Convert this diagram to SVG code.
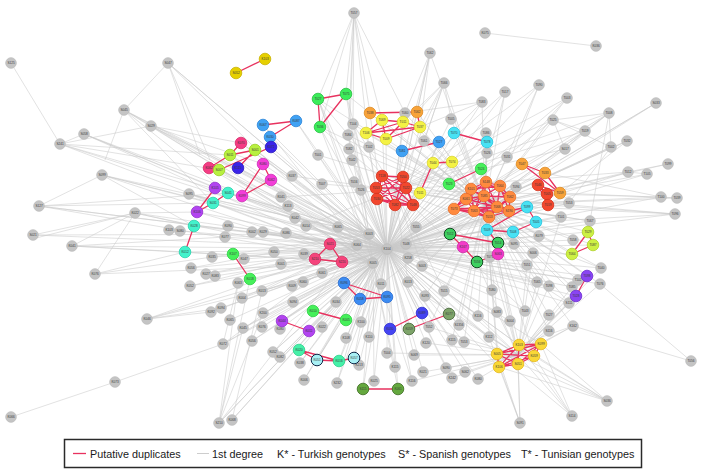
<svg xmlns="http://www.w3.org/2000/svg" width="703" height="472" viewBox="0 0 703 472">
<style>
.e{stroke:#c9c9c9;stroke-width:.55;fill:none}
.d{stroke:#e8325f;stroke-width:1.3;fill:none;stroke-linecap:round}
.n circle{stroke-width:.8}
.n text{font-family:"Liberation Sans",Arial,sans-serif;font-size:3.1px;fill:#3a3a3a;text-anchor:middle;dominant-baseline:central}
.g circle{fill:#c4c4c4;stroke:#bcbcbc}
.y1 circle{fill:#e6d000;stroke:#c9b200}
.gr circle{fill:#3cec5a;stroke:#24c040}
.or circle{fill:#f7a33a;stroke:#e08a20}
.ye circle{fill:#f4f244;stroke:#dcd52c}
.cy circle{fill:#48e2f4;stroke:#22c4e0}
.bl circle{fill:#40a2f4;stroke:#2a84d8}
.in circle{fill:#3a24e8;stroke:#2a18c0}
.hp circle{fill:#f43c84;stroke:#d82a68}
.li circle{fill:#b8f040;stroke:#98d020}
.mg circle{fill:#f23ed8;stroke:#d02ab8}
.pu circle{fill:#b244f0;stroke:#9430d0}
.aq circle{fill:#44f2cc;stroke:#24d4ac}
.gn circle{fill:#46f05a;stroke:#2ad040}
.rd circle{fill:#f2472e;stroke:#d4321c}
.o2 circle{fill:#ff8a3e;stroke:#e8702a}
.pk circle{fill:#f5447c;stroke:#d82e62}
.b2 circle{fill:#3c8cf2;stroke:#2468d0}
.dg circle{fill:#3ed060;stroke:#124a22;stroke-width:1}
.m2 circle{fill:#f23cc8;stroke:#d02aa8}
.l2 circle{fill:#cdf044;stroke:#b0d22a}
.vi circle{fill:#8a44f2;stroke:#6a2ad0}
.ag circle{fill:#46f0a8;stroke:#28d08a}
.lc circle{fill:#a8f0f4;stroke:#102a4a;stroke-width:1}
.b3 circle{fill:#4444f2;stroke:#2a2ad0}
.ol circle{fill:#7ea46a;stroke:#3e6030}
.d2 circle{fill:#64a83e;stroke:#3a6a1e}
.go circle{fill:#f9d836;stroke:#e4b81a}
.lg{font-family:"Liberation Sans",Arial,sans-serif;font-size:10.8px;fill:#1a1a1a}
</style>
<rect width="703" height="472" fill="#fff"/>
<g id="connectors">
<path class="e" d="M387 249L124 110M387 249L151 126M387 249L84 134M387 249L60 144M387 249L168 63M387 249L102 175M387 249L39 206M387 249L189 194M387 249L135 213M387 249L33 235M387 249L72 246M387 249L180 231M387 249L228 226M387 249L225 237M387 249L212 257M387 249L191 268M387 249L206 274M387 249L215 276M387 249L190 286M387 249L221 308M387 249L211 312M387 249L147 319M387 249L230 320M387 249L223 344M387 249L292 176M387 249L322 184M387 249L281 197M387 249L288 206M387 249L295 218M387 249L306 226M387 249L338 227M387 249L354 182M387 249L361 190M387 249L352 160M387 249L252 232M387 249L263 232M387 249L286 233M387 249L274 252M387 249L304 254M387 249L281 264M387 249L322 273M387 249L292 286M387 249L303 282M387 249L381 284M387 249L408 282M387 249L444 291M387 249L425 296M387 249L293 302M387 249L336 302M387 249L262 291M387 249L238 283M387 249L244 259M387 249L242 298M387 249L263 313M387 249L243 328M387 249L262 327M387 249L252 341M387 249L280 329M387 249L322 327M387 249L361 322M387 249L346 338M387 249L369 337M387 249L273 352M387 249L280 357M387 249L300 363M387 249L359 365M387 249L304 380M387 249L337 383M387 249L429 327M387 249L426 343M387 249L387 353M387 249L414 355M387 249L395 367M387 249L423 372M387 249L412 381M387 249L374 381M387 249L219 423M387 249L232 420M387 249L489 337M387 249L497 312M387 249L510 321M387 249L478 316M387 249L478 379M387 249L446 368M387 249L465 372M387 249L452 378M387 249L464 342M387 249L452 340M387 249L459 325M387 249L318 155M387 249L349 149M387 249L369 147M387 249L348 135M387 249L353 124M387 249L424 141M387 249L451 119M387 249L405 113M387 249L507 157M387 249L487 153M387 249L486 133M387 249L482 102M387 249L505 92M387 249L539 85M387 249L553 120M387 249L565 149M387 249L516 187M387 249L569 203M387 249L561 217M387 249L590 221M387 249L539 236M387 249L573 240M387 249L514 244M387 249L533 253M387 249L490 257M387 249L527 265M387 249L537 282M387 249L549 286M387 249L492 290M387 249L525 311M387 249L572 287M387 249L578 280M387 249L569 303M387 249L600 284M387 249L601 268M387 249L628 172M387 249L647 174M387 249L661 197M387 249L675 214M387 249L609 113M387 249L585 131M387 249L611 147M387 249L627 141M387 249L567 98M387 249L444 83M387 249L430 53"/>
<path class="e" d="M387 249L318 99M387 249L346 94M387 249L320 127M387 249L370 113M387 249L417 112M387 249L382 120M387 249L403 122M387 249L420 127M387 249L366 133M387 249L386 139M387 249L433 163M387 249L452 162M387 249L420 193M387 249L454 133M387 249L487 142M387 249L527 207M387 249L536 222M387 249L487 230M387 249L513 232M387 249L439 142M387 249L402 151M387 249L263 125M387 249L296 121M387 249L270 137M387 249L271 147M387 249L238 168M387 249L241 143M387 249L209 168M387 249L230 155M387 249L255 150M387 249L219 170M387 249L263 164M387 249L271 180M387 249L242 196M387 249L215 188M387 249L197 212M387 249L228 193M387 249L213 203M387 249L194 226M387 249L185 252M387 249L449 184M387 249L481 169M387 249L233 254M387 249L250 279M387 249L313 311M387 249L346 320M387 249L382 176M387 249L403 177M387 249L376 188M387 249L406 188M387 249L377 199M387 249L395 205M387 249L413 205M387 249L538 185M387 249L547 194M387 249L548 205M387 249L486 182M387 249L500 186M387 249L471 189M387 249L484 196M387 249L510 197M387 249L466 199M387 249L454 209M387 249L474 211M387 249L497 207M387 249L509 211M387 249L489 217M387 249L522 164M387 249L545 173M387 249L560 193M387 249L330 244M387 249L315 259M387 249L342 262M387 249L344 283M387 249L360 299M387 249L387 297M387 249L450 234M387 249L498 243M387 249L477 262M387 249L463 247M387 249L498 254M387 249L588 232M387 249L593 245M387 249L572 254M387 249L587 276M387 249L576 296M387 249L282 321M387 249L309 331M387 249L299 350M387 249L339 361M387 249L317 360M387 249L354 358M387 249L390 329M387 249L422 313M387 249L409 329M387 249L449 314M387 249L363 389M387 249L398 389M387 249L519 345M387 249L541 344M387 249L497 354M387 249L534 356M387 249L518 364M387 249L499 367"/>
<path class="e" d="M373 263L124 110M373 263L151 126M373 263L84 134M373 263L168 63M373 263L102 175M373 263L39 206M373 263L135 213M373 263L72 246M373 263L95 274M373 263L147 319M373 263L223 344M373 263L219 423M373 263L232 420M373 263L263 313M373 263L243 328M373 263L252 341M373 263L273 352M373 263L280 357M373 263L304 380M373 263L337 383M373 263L363 389M373 263L398 389M373 263L374 381M373 263L412 381M373 263L395 367M373 263L300 363M373 263L317 360M373 263L339 361M373 263L354 358M373 263L282 321M373 263L309 331M373 263L318 99M373 263L320 127M373 263L348 135M373 263L353 124M373 263L263 125M373 263L209 168M373 263L197 212M373 263L185 252M373 263L60 144M373 263L189 194M373 263L230 155M373 263L219 170"/>
<path class="e" d="M369 234L124 110M369 234L151 126M369 234L60 144M369 234L168 63M369 234L102 175M369 234L33 235M369 234L189 194M369 234L212 257M369 234L191 268M369 234L296 121M369 234L318 99M369 234L346 94M369 234L228 193M369 234L241 143M369 234L255 150M357 245L124 110M357 245L84 134M357 245L39 206M357 245L147 319M357 245L223 344M357 245L219 423M357 245L190 286M357 245L206 274M357 245L262 291M357 245L242 298"/>
<path class="e" d="M485 205L430 53M485 205L444 83M485 205L482 102M485 205L505 92M485 205L539 85M485 205L567 98M485 205L656 103M485 205L553 120M485 205L609 113M485 205L585 131M485 205L611 147M485 205L627 141M485 205L565 149M485 205L486 133M485 205L487 153M485 205L507 157M485 205L628 172M485 205L647 174M485 205L668 164M485 205L661 197M485 205L677 198M485 205L675 214M485 205L569 203M485 205L561 217M485 205L590 221M485 205L573 240M485 205L601 268M485 205L600 284M485 205L578 280M485 205L572 287M485 205L569 303M485 205L537 282M485 205L549 286M485 205L527 265M485 205L525 311M485 205L497 312M485 205L492 290M485 205L533 253M485 205L514 244M485 205L539 236M485 205L588 232M485 205L593 245M485 205L572 254M485 205L587 276M485 205L576 296M485 205L451 119M485 205L424 141M485 205L405 113M485 205L420 127M485 205L403 122M485 205L382 120M485 205L366 133M485 205L386 139M485 205L346 94M485 205L318 99M485 205L320 127M485 205L370 113M485 205L417 112M485 205L402 151M485 205L439 142M485 205L454 133M485 205L487 142M485 205L433 163M485 205L452 162M485 205L420 193M485 205L408 258M485 205L422 266M485 205L444 291M485 205L425 296M485 205L408 282M485 205L381 284M485 205L429 327M485 205L459 325M485 205L464 342M485 205L452 340M485 205L478 316M485 205L510 321M485 205L549 315M485 205L549 331M485 205L573 326M485 205L489 337M485 205L519 345M485 205L497 354M485 205L499 367M485 205L534 356M485 205L353 124M485 205L348 135M485 205L349 149M485 205L318 155"/>
<path class="e" d="M395 190L430 53M395 190L444 83M395 190L482 102M395 190L505 92M395 190L539 85M395 190L567 98M395 190L553 120M395 190L609 113M395 190L585 131M395 190L565 149M395 190L628 172M395 190L661 197M395 190L675 214M395 190L561 217M395 190L590 221M395 190L601 268M395 190L569 303M395 190L525 311M395 190L422 266M395 190L444 291M395 190L408 282M395 190L292 176M395 190L281 197M395 190L322 184M395 190L306 226M395 190L318 99M395 190L320 127M395 190L353 124"/>
<path class="e" d="M518 355L607 401M518 355L572 416M518 355L520 423M518 355L573 326M518 355L549 331M518 355L549 315M518 355L478 379M518 355L489 337M518 355L446 368M518 355L465 372M518 355L452 378M518 355L464 342M518 355L510 321M518 355L497 312M518 355L478 316M518 355L429 327M518 355L426 343M518 355L414 355M518 355L423 372M518 355L412 381M518 355L387 353M518 355L408 282M518 355L425 296M518 355L444 291M518 355L498 254M518 355L477 262M518 355L490 257M518 355L527 265M518 355L537 282M518 355L549 286M518 355L572 287M518 355L569 303M518 355L576 296M518 355L600 284M518 355L587 276M518 355L601 268M518 355L561 217M518 355L533 253M607 401L541 344M607 401L519 345M607 401L497 354M607 401L499 367M607 401L534 356M572 416L541 344M572 416L519 345M572 416L497 354M572 416L534 356M520 423L497 354M520 423L518 364M520 423L499 367M520 423L489 337M573 326L541 344M573 326L519 345M573 326L691 361"/>
<path class="e" d="M354 13L318 99M354 13L346 94M354 13L320 127M354 13L353 124M354 13L348 135M354 13L370 113M354 13L405 113M354 13L382 120M354 13L349 149M354 13L369 147M430 53L417 112M430 53L420 127M430 53L405 113M444 83L420 127M444 83L451 119M444 83L424 141M444 83L403 122M444 83L417 112M11 63L60 144M168 63L124 110M168 63L200 155M168 63L210 160M60 144L151 126M60 144L84 134M60 144L230 155M60 144L219 170M84 134L215 188M124 110L105 160M124 110L228 193M124 110L213 203M151 126L241 143M151 126L263 164M102 175L39 206M102 175L213 203M102 175L194 226M39 206L228 193M39 206L213 203M135 213L33 235M135 213L36 238M135 213L72 246M135 213L95 274M135 213L197 212M135 213L194 226M72 246L225 237M72 246L185 252M95 274L185 252M95 274L212 257M147 319L221 308M147 319L211 312M223 344L115 382M115 382L11 417M223 344L238 283M219 423L238 283M219 423L250 279M219 423L243 328M219 423L263 313M232 420L262 291M485 33L596 46M668 164L628 172M647 174L628 172M677 198L661 197M661 197L545 173M677 198L560 193M675 214L548 205M675 214L536 222M656 103L560 160M656 103L545 173M539 85L510 160M505 92L490 150M567 98L520 150M609 113L553 120M609 113L585 131M609 113L565 149M609 113L611 147M609 113L590 221M553 120L611 147M553 120L585 131M553 120L565 149M585 131L565 149M482 102L405 113M482 102L420 127M627 141L560 193M611 147L569 203M691 361L600 284"/>
</g>
<g id="duplicates">
<path class="d" d="M236 73L265 59M318 99L346 94M318 99L320 127M346 94L320 127M370 113L417 112M382 120L403 122M382 120L366 133M366 133L403 122M366 133L386 139M366 133L420 127M386 139L420 127M403 122L420 127M386 139L403 122M417 112L420 127M382 120L386 139M402 151L439 142M454 133L487 142M263 125L296 121M296 121L270 137M241 143L230 155M230 155L255 150M209 168L230 155M209 168L219 170M219 170L271 147M255 150L238 168M263 164L271 180M271 180L242 196M263 164L242 196M215 188L197 212M228 193L213 203M213 203L197 212M194 226L185 252M433 163L452 162M433 163L420 193M449 184L481 169M233 254L250 279"/>
<path class="d" d="M382 176L403 177M382 176L376 188M382 176L406 188M382 176L377 199M382 176L395 205M382 176L413 205M403 177L376 188M403 177L406 188M403 177L377 199M403 177L395 205M403 177L413 205M376 188L406 188M376 188L377 199M376 188L395 205M376 188L413 205M406 188L377 199M406 188L395 205M406 188L413 205M377 199L395 205M377 199L413 205M395 205L413 205"/>
<path class="d" d="M486 182L500 186M486 182L471 189M486 182L484 196M486 182L510 197M486 182L466 199M486 182L497 207M486 182L474 211M500 186L484 196M500 186L510 197M500 186L497 207M500 186L509 211M500 186L471 189M471 189L484 196M471 189L466 199M471 189L454 209M471 189L474 211M471 189L497 207M484 196L510 197M484 196L466 199M484 196L454 209M484 196L474 211M484 196L497 207M484 196L509 211M484 196L489 217M510 197L497 207M510 197L509 211M510 197L489 217M466 199L454 209M466 199L474 211M466 199L489 217M454 209L474 211M454 209L489 217M474 211L497 207M474 211L489 217M474 211L509 211M497 207L509 211M497 207L489 217M509 211L489 217M466 199L497 207M454 209L497 207"/>
<path class="d" d="M522 164L545 173M522 164L560 193M545 173L560 193M538 185L547 194M547 194L548 205M538 185L548 205M538 185L560 193M527 207L536 222M527 207L487 230M487 230L513 232M513 232L536 222M527 207L509 211M487 230L498 243M450 234L463 247M463 247L477 262M498 243L498 254M498 254L477 262M450 234L498 243M588 232L593 245M588 232L572 254M593 245L572 254M587 276L576 296M330 244L315 259M315 259L342 262M330 244L342 262M344 283L360 299M360 299L387 297M344 283L387 297M282 321L309 331M313 311L346 320M299 350L339 361M317 360L339 361M339 361L354 358M299 350L317 360M390 329L422 313M409 329L449 314M363 389L398 389"/>
<path class="d" d="M519 345L541 344M519 345L497 354M519 345L534 356M519 345L518 364M519 345L499 367M541 344L497 354M541 344L534 356M541 344L518 364M541 344L499 367M497 354L534 356M497 354L518 364M497 354L499 367M534 356L518 364M534 356L499 367M518 364L499 367"/>
</g>
<g id="S125" class="n g"><circle cx="11" cy="63" r="5.3"/><text x="11" y="63">S125</text></g>
<g id="S047" class="n g"><circle cx="168" cy="63" r="5.3"/><text x="168" y="63">S047</text></g>
<g id="S045" class="n g"><circle cx="124" cy="110" r="5.3"/><text x="124" y="110">S045</text></g>
<g id="S029" class="n g"><circle cx="151" cy="126" r="5.3"/><text x="151" y="126">S029</text></g>
<g id="S058" class="n g"><circle cx="84" cy="134" r="5.3"/><text x="84" y="134">S058</text></g>
<g id="S241" class="n g"><circle cx="60" cy="144" r="5.3"/><text x="60" y="144">S241</text></g>
<g id="T057" class="n g"><circle cx="354" cy="13" r="5.3"/><text x="354" y="13">T057</text></g>
<g id="T062g" class="n g"><circle cx="430" cy="53" r="5.3"/><text x="430" y="53">T062</text></g>
<g id="T066" class="n g"><circle cx="444" cy="83" r="5.3"/><text x="444" y="83">T066</text></g>
<g id="K075" class="n g"><circle cx="485" cy="33" r="5.3"/><text x="485" y="33">K075</text></g>
<g id="K036" class="n g"><circle cx="596" cy="46" r="5.3"/><text x="596" y="46">K036</text></g>
<g id="T090" class="n g"><circle cx="539" cy="85" r="5.3"/><text x="539" y="85">T090</text></g>
<g id="T017" class="n g"><circle cx="505" cy="92" r="5.3"/><text x="505" y="92">T017</text></g>
<g id="T083" class="n g"><circle cx="482" cy="102" r="5.3"/><text x="482" y="102">T083</text></g>
<g id="T003" class="n g"><circle cx="567" cy="98" r="5.3"/><text x="567" y="98">T003</text></g>
<g id="S033" class="n g"><circle cx="656" cy="103" r="5.3"/><text x="656" y="103">S033</text></g>
<g id="T025" class="n g"><circle cx="553" cy="120" r="5.3"/><text x="553" y="120">T025</text></g>
<g id="T008" class="n g"><circle cx="609" cy="113" r="5.3"/><text x="609" y="113">T008</text></g>
<g id="T019" class="n g"><circle cx="585" cy="131" r="5.3"/><text x="585" y="131">T019</text></g>
<g id="T086" class="n g"><circle cx="486" cy="133" r="5.3"/><text x="486" y="133">T086</text></g>
<g id="T026" class="n g"><circle cx="487" cy="153" r="5.3"/><text x="487" y="153">T026</text></g>
<g id="S017" class="n g"><circle cx="565" cy="149" r="5.3"/><text x="565" y="149">S017</text></g>
<g id="T002" class="n g"><circle cx="611" cy="147" r="5.3"/><text x="611" y="147">T002</text></g>
<g id="T032" class="n g"><circle cx="627" cy="141" r="5.3"/><text x="627" y="141">T032</text></g>
<g id="T031" class="n g"><circle cx="507" cy="157" r="5.3"/><text x="507" y="157">T031</text></g>
<g id="T060" class="n g"><circle cx="405" cy="113" r="5.3"/><text x="405" y="113">T060</text></g>
<g id="T104" class="n g"><circle cx="353" cy="124" r="5.3"/><text x="353" y="124">T104</text></g>
<g id="T005g" class="n g"><circle cx="451" cy="119" r="5.3"/><text x="451" y="119">T005</text></g>
<g id="T084" class="n g"><circle cx="348" cy="135" r="5.3"/><text x="348" y="135">T084</text></g>
<g id="T061" class="n g"><circle cx="424" cy="141" r="5.3"/><text x="424" y="141">T061</text></g>
<g id="T102" class="n g"><circle cx="369" cy="147" r="5.3"/><text x="369" y="147">T102</text></g>
<g id="T082g" class="n g"><circle cx="349" cy="149" r="5.3"/><text x="349" y="149">T082</text></g>
<g id="T001" class="n g"><circle cx="318" cy="155" r="5.3"/><text x="318" y="155">T001</text></g>
<g id="S099" class="n g"><circle cx="102" cy="175" r="5.3"/><text x="102" y="175">S099</text></g>
<g id="S127" class="n g"><circle cx="39" cy="206" r="5.3"/><text x="39" y="206">S127</text></g>
<g id="S095" class="n g"><circle cx="189" cy="194" r="5.3"/><text x="189" y="194">S095</text></g>
<g id="K022" class="n g"><circle cx="135" cy="213" r="5.3"/><text x="135" y="213">K022</text></g>
<g id="S021" class="n g"><circle cx="33" cy="235" r="5.3"/><text x="33" y="235">S021</text></g>
<g id="K041" class="n g"><circle cx="72" cy="246" r="5.3"/><text x="72" y="246">K041</text></g>
<g id="K103" class="n g"><circle cx="169" cy="230" r="5.3"/><text x="169" y="230">K103</text></g>
<g id="S080" class="n g"><circle cx="180" cy="231" r="5.3"/><text x="180" y="231">S080</text></g>
<g id="K090" class="n g"><circle cx="228" cy="226" r="5.3"/><text x="228" y="226">K090</text></g>
<g id="K077" class="n g"><circle cx="225" cy="237" r="5.3"/><text x="225" y="237">K077</text></g>
<g id="K035" class="n g"><circle cx="212" cy="257" r="5.3"/><text x="212" y="257">K035</text></g>
<g id="K076" class="n g"><circle cx="95" cy="274" r="5.3"/><text x="95" y="274">K076</text></g>
<g id="K056" class="n g"><circle cx="191" cy="268" r="5.3"/><text x="191" y="268">K056</text></g>
<g id="K027" class="n g"><circle cx="206" cy="274" r="5.3"/><text x="206" y="274">K027</text></g>
<g id="K083" class="n g"><circle cx="215" cy="276" r="5.3"/><text x="215" y="276">K083</text></g>
<g id="K052" class="n g"><circle cx="190" cy="286" r="5.3"/><text x="190" y="286">K052</text></g>
<g id="K094" class="n g"><circle cx="221" cy="308" r="5.3"/><text x="221" y="308">K094</text></g>
<g id="K092" class="n g"><circle cx="211" cy="312" r="5.3"/><text x="211" y="312">K092</text></g>
<g id="K046" class="n g"><circle cx="147" cy="319" r="5.3"/><text x="147" y="319">K046</text></g>
<g id="K065" class="n g"><circle cx="230" cy="320" r="5.3"/><text x="230" y="320">K065</text></g>
<g id="K072" class="n g"><circle cx="223" cy="344" r="5.3"/><text x="223" y="344">K072</text></g>
<g id="K073" class="n g"><circle cx="115" cy="382" r="5.3"/><text x="115" y="382">K073</text></g>
<g id="K066" class="n g"><circle cx="11" cy="417" r="5.3"/><text x="11" y="417">K066</text></g>
<g id="S210" class="n g"><circle cx="219" cy="423" r="5.3"/><text x="219" y="423">S210</text></g>
<g id="K068" class="n g"><circle cx="232" cy="420" r="5.3"/><text x="232" y="420">K068</text></g>
<g id="K037" class="n g"><circle cx="292" cy="176" r="5.3"/><text x="292" y="176">K037</text></g>
<g id="T007" class="n g"><circle cx="322" cy="184" r="5.3"/><text x="322" y="184">T007</text></g>
<g id="K041b" class="n g"><circle cx="281" cy="197" r="5.3"/><text x="281" y="197">K041</text></g>
<g id="K113" class="n g"><circle cx="288" cy="206" r="5.3"/><text x="288" y="206">K113</text></g>
<g id="K042" class="n g"><circle cx="295" cy="218" r="5.3"/><text x="295" y="218">K042</text></g>
<g id="K014" class="n g"><circle cx="306" cy="226" r="5.3"/><text x="306" y="226">K014</text></g>
<g id="K065b" class="n g"><circle cx="338" cy="227" r="5.3"/><text x="338" y="227">K065</text></g>
<g id="T016" class="n g"><circle cx="354" cy="182" r="5.3"/><text x="354" y="182">T016</text></g>
<g id="T026b" class="n g"><circle cx="361" cy="190" r="5.3"/><text x="361" y="190">T026</text></g>
<g id="T042" class="n g"><circle cx="352" cy="160" r="5.3"/><text x="352" y="160">T042</text></g>
<g id="K002" class="n g"><circle cx="252" cy="232" r="5.3"/><text x="252" y="232">K002</text></g>
<g id="K029" class="n g"><circle cx="263" cy="232" r="5.3"/><text x="263" y="232">K029</text></g>
<g id="K086" class="n g"><circle cx="286" cy="233" r="5.3"/><text x="286" y="233">K086</text></g>
<g id="K003" class="n g"><circle cx="369" cy="234" r="5.3"/><text x="369" y="234">K003</text></g>
<g id="T055" class="n g"><circle cx="416" cy="227" r="5.3"/><text x="416" y="227">T055</text></g>
<g id="K064" class="n g"><circle cx="357" cy="245" r="5.3"/><text x="357" y="245">K064</text></g>
<g id="K104" class="n g"><circle cx="387" cy="249" r="5.3"/><text x="387" y="249">K104</text></g>
<g id="T048" class="n g"><circle cx="406" cy="244" r="5.3"/><text x="406" y="244">T048</text></g>
<g id="K005" class="n g"><circle cx="373" cy="263" r="5.3"/><text x="373" y="263">K005</text></g>
<g id="K258" class="n g"><circle cx="408" cy="258" r="5.3"/><text x="408" y="258">K258</text></g>
<g id="S003" class="n g"><circle cx="422" cy="266" r="5.3"/><text x="422" y="266">S003</text></g>
<g id="K050" class="n g"><circle cx="274" cy="252" r="5.3"/><text x="274" y="252">K050</text></g>
<g id="K039" class="n g"><circle cx="304" cy="254" r="5.3"/><text x="304" y="254">K039</text></g>
<g id="K001" class="n g"><circle cx="281" cy="264" r="5.3"/><text x="281" y="264">K001</text></g>
<g id="K061" class="n g"><circle cx="322" cy="273" r="5.3"/><text x="322" y="273">K061</text></g>
<g id="K009" class="n g"><circle cx="292" cy="286" r="5.3"/><text x="292" y="286">K009</text></g>
<g id="K060" class="n g"><circle cx="303" cy="282" r="5.3"/><text x="303" y="282">K060</text></g>
<g id="K011" class="n g"><circle cx="381" cy="284" r="5.3"/><text x="381" y="284">K011</text></g>
<g id="K013" class="n g"><circle cx="408" cy="282" r="5.3"/><text x="408" y="282">K013</text></g>
<g id="T015" class="n g"><circle cx="444" cy="291" r="5.3"/><text x="444" y="291">T015</text></g>
<g id="K093" class="n g"><circle cx="425" cy="296" r="5.3"/><text x="425" y="296">K093</text></g>
<g id="S094" class="n g"><circle cx="293" cy="302" r="5.3"/><text x="293" y="302">S094</text></g>
<g id="K034" class="n g"><circle cx="336" cy="302" r="5.3"/><text x="336" y="302">K034</text></g>
<g id="K013b" class="n g"><circle cx="262" cy="291" r="5.3"/><text x="262" y="291">K013</text></g>
<g id="K063" class="n g"><circle cx="238" cy="283" r="5.3"/><text x="238" y="283">K063</text></g>
<g id="K047" class="n g"><circle cx="244" cy="259" r="5.3"/><text x="244" y="259">K047</text></g>
<g id="K004" class="n g"><circle cx="242" cy="298" r="5.3"/><text x="242" y="298">K004</text></g>
<g id="K200" class="n g"><circle cx="263" cy="313" r="5.3"/><text x="263" y="313">K200</text></g>
<g id="T094" class="n g"><circle cx="516" cy="187" r="5.3"/><text x="516" y="187">T094</text></g>
<g id="T012" class="n g"><circle cx="628" cy="172" r="5.3"/><text x="628" y="172">T012</text></g>
<g id="T105" class="n g"><circle cx="647" cy="174" r="5.3"/><text x="647" y="174">T105</text></g>
<g id="T099g" class="n g"><circle cx="668" cy="164" r="5.3"/><text x="668" y="164">T099</text></g>
<g id="T100" class="n g"><circle cx="661" cy="197" r="5.3"/><text x="661" y="197">T100</text></g>
<g id="T039" class="n g"><circle cx="677" cy="198" r="5.3"/><text x="677" y="198">T039</text></g>
<g id="T096" class="n g"><circle cx="675" cy="214" r="5.3"/><text x="675" y="214">T096</text></g>
<g id="T053g" class="n g"><circle cx="569" cy="203" r="5.3"/><text x="569" y="203">T053</text></g>
<g id="T101" class="n g"><circle cx="561" cy="217" r="5.3"/><text x="561" y="217">T101</text></g>
<g id="T067" class="n g"><circle cx="590" cy="221" r="5.3"/><text x="590" y="221">T067</text></g>
<g id="K079" class="n g"><circle cx="539" cy="236" r="5.3"/><text x="539" y="236">K079</text></g>
<g id="T058" class="n g"><circle cx="573" cy="240" r="5.3"/><text x="573" y="240">T058</text></g>
<g id="S095b" class="n g"><circle cx="514" cy="244" r="5.3"/><text x="514" y="244">S095</text></g>
<g id="S006" class="n g"><circle cx="533" cy="253" r="5.3"/><text x="533" y="253">S006</text></g>
<g id="T071" class="n g"><circle cx="490" cy="257" r="5.3"/><text x="490" y="257">T071</text></g>
<g id="T051" class="n g"><circle cx="527" cy="265" r="5.3"/><text x="527" y="265">T051</text></g>
<g id="T040" class="n g"><circle cx="601" cy="268" r="5.3"/><text x="601" y="268">T040</text></g>
<g id="T076" class="n g"><circle cx="600" cy="284" r="5.3"/><text x="600" y="284">T076</text></g>
<g id="T102b" class="n g"><circle cx="578" cy="280" r="5.3"/><text x="578" y="280">T102</text></g>
<g id="T085" class="n g"><circle cx="572" cy="287" r="5.3"/><text x="572" y="287">T085</text></g>
<g id="S111" class="n g"><circle cx="569" cy="303" r="5.3"/><text x="569" y="303">S111</text></g>
<g id="T065" class="n g"><circle cx="537" cy="282" r="5.3"/><text x="537" y="282">T065</text></g>
<g id="T098g" class="n g"><circle cx="549" cy="286" r="5.3"/><text x="549" y="286">T098</text></g>
<g id="T080" class="n g"><circle cx="492" cy="290" r="5.3"/><text x="492" y="290">T080</text></g>
<g id="T043" class="n g"><circle cx="525" cy="311" r="5.3"/><text x="525" y="311">T043</text></g>
<g id="S083" class="n g"><circle cx="497" cy="312" r="5.3"/><text x="497" y="312">S083</text></g>
<g id="K045" class="n g"><circle cx="243" cy="328" r="5.3"/><text x="243" y="328">K045</text></g>
<g id="K076c" class="n g"><circle cx="262" cy="327" r="5.3"/><text x="262" y="327">K076</text></g>
<g id="K056b" class="n g"><circle cx="252" cy="341" r="5.3"/><text x="252" y="341">K056</text></g>
<g id="K080b" class="n g"><circle cx="280" cy="329" r="5.3"/><text x="280" y="329">K080</text></g>
<g id="K022b" class="n g"><circle cx="322" cy="327" r="5.3"/><text x="322" y="327">K022</text></g>
<g id="K100" class="n g"><circle cx="361" cy="322" r="5.3"/><text x="361" y="322">K100</text></g>
<g id="K108" class="n g"><circle cx="346" cy="338" r="5.3"/><text x="346" y="338">K108</text></g>
<g id="K110" class="n g"><circle cx="369" cy="337" r="5.3"/><text x="369" y="337">K110</text></g>
<g id="K052b" class="n g"><circle cx="273" cy="352" r="5.3"/><text x="273" y="352">K052</text></g>
<g id="K082" class="n g"><circle cx="280" cy="357" r="5.3"/><text x="280" y="357">K082</text></g>
<g id="K038" class="n g"><circle cx="300" cy="363" r="5.3"/><text x="300" y="363">K038</text></g>
<g id="K213" class="n g"><circle cx="359" cy="365" r="5.3"/><text x="359" y="365">K213</text></g>
<g id="K006" class="n g"><circle cx="304" cy="380" r="5.3"/><text x="304" y="380">K006</text></g>
<g id="S232" class="n g"><circle cx="337" cy="383" r="5.3"/><text x="337" y="383">S232</text></g>
<g id="T052" class="n g"><circle cx="429" cy="327" r="5.3"/><text x="429" y="327">T052</text></g>
<g id="S1356" class="n g"><circle cx="459" cy="325" r="5.3"/><text x="459" y="325">S1356</text></g>
<g id="K120" class="n g"><circle cx="426" cy="343" r="5.3"/><text x="426" y="343">K120</text></g>
<g id="K115" class="n g"><circle cx="452" cy="340" r="5.3"/><text x="452" y="340">K115</text></g>
<g id="T053b" class="n g"><circle cx="464" cy="342" r="5.3"/><text x="464" y="342">T053</text></g>
<g id="T004" class="n g"><circle cx="387" cy="353" r="5.3"/><text x="387" y="353">T004</text></g>
<g id="S069" class="n g"><circle cx="414" cy="355" r="5.3"/><text x="414" y="355">S069</text></g>
<g id="K115b" class="n g"><circle cx="395" cy="367" r="5.3"/><text x="395" y="367">K115</text></g>
<g id="K021" class="n g"><circle cx="423" cy="372" r="5.3"/><text x="423" y="372">K021</text></g>
<g id="K116" class="n g"><circle cx="412" cy="381" r="5.3"/><text x="412" y="381">K116</text></g>
<g id="K025" class="n g"><circle cx="374" cy="381" r="5.3"/><text x="374" y="381">K025</text></g>
<g id="S090" class="n g"><circle cx="446" cy="368" r="5.3"/><text x="446" y="368">S090</text></g>
<g id="S062" class="n g"><circle cx="465" cy="372" r="5.3"/><text x="465" y="372">S062</text></g>
<g id="K242" class="n g"><circle cx="452" cy="378" r="5.3"/><text x="452" y="378">K242</text></g>
<g id="K116b" class="n g"><circle cx="478" cy="316" r="5.3"/><text x="478" y="316">K116</text></g>
<g id="S004" class="n g"><circle cx="510" cy="321" r="5.3"/><text x="510" y="321">S004</text></g>
<g id="T027g" class="n g"><circle cx="549" cy="315" r="5.3"/><text x="549" y="315">T027</text></g>
<g id="S116" class="n g"><circle cx="549" cy="331" r="5.3"/><text x="549" y="331">S116</text></g>
<g id="K162" class="n g"><circle cx="573" cy="326" r="5.3"/><text x="573" y="326">K162</text></g>
<g id="K112" class="n g"><circle cx="489" cy="337" r="5.3"/><text x="489" y="337">K112</text></g>
<g id="K080c" class="n g"><circle cx="478" cy="379" r="5.3"/><text x="478" y="379">K080</text></g>
<g id="T056g" class="n g"><circle cx="691" cy="361" r="5.3"/><text x="691" y="361">T056</text></g>
<g id="S036" class="n g"><circle cx="607" cy="401" r="5.3"/><text x="607" y="401">S036</text></g>
<g id="S114" class="n g"><circle cx="572" cy="416" r="5.3"/><text x="572" y="416">S114</text></g>
<g id="S091" class="n g"><circle cx="520" cy="423" r="5.3"/><text x="520" y="423">S091</text></g>
<g id="S052" class="n y1"><circle cx="236" cy="73" r="5.8"/><text x="236" y="73">S052</text></g>
<g id="K103y" class="n y1"><circle cx="265" cy="59" r="5.8"/><text x="265" y="59">K103</text></g>
<g id="T027" class="n gr"><circle cx="318" cy="99" r="5.8"/><text x="318" y="99">T027</text></g>
<g id="T075" class="n gr"><circle cx="346" cy="94" r="5.8"/><text x="346" y="94">T075</text></g>
<g id="T036" class="n gr"><circle cx="320" cy="127" r="5.8"/><text x="320" y="127">T036</text></g>
<g id="T038" class="n or"><circle cx="370" cy="113" r="5.8"/><text x="370" y="113">T038</text></g>
<g id="T062o" class="n or"><circle cx="417" cy="112" r="5.8"/><text x="417" y="112">T062</text></g>
<g id="T069" class="n ye"><circle cx="382" cy="120" r="5.8"/><text x="382" y="120">T069</text></g>
<g id="T011" class="n ye"><circle cx="403" cy="122" r="5.8"/><text x="403" y="122">T011</text></g>
<g id="T037" class="n ye"><circle cx="420" cy="127" r="5.8"/><text x="420" y="127">T037</text></g>
<g id="T106" class="n ye"><circle cx="366" cy="133" r="5.8"/><text x="366" y="133">T106</text></g>
<g id="T009" class="n ye"><circle cx="386" cy="139" r="5.8"/><text x="386" y="139">T009</text></g>
<g id="T044" class="n ye"><circle cx="433" cy="163" r="5.8"/><text x="433" y="163">T044</text></g>
<g id="T074" class="n ye"><circle cx="452" cy="162" r="5.8"/><text x="452" y="162">T074</text></g>
<g id="T011b" class="n ye"><circle cx="420" cy="193" r="5.8"/><text x="420" y="193">T011</text></g>
<g id="T070" class="n cy"><circle cx="454" cy="133" r="5.8"/><text x="454" y="133">T070</text></g>
<g id="T078" class="n cy"><circle cx="487" cy="142" r="5.8"/><text x="487" y="142">T078</text></g>
<g id="T099c" class="n cy"><circle cx="527" cy="207" r="5.8"/><text x="527" y="207">T099</text></g>
<g id="T005c" class="n cy"><circle cx="536" cy="222" r="5.8"/><text x="536" y="222">T005</text></g>
<g id="T009c" class="n cy"><circle cx="487" cy="230" r="5.8"/><text x="487" y="230">T009</text></g>
<g id="T008c" class="n cy"><circle cx="513" cy="232" r="5.8"/><text x="513" y="232">T008</text></g>
<g id="T027b" class="n bl"><circle cx="439" cy="142" r="5.8"/><text x="439" y="142">T027</text></g>
<g id="T081" class="n bl"><circle cx="402" cy="151" r="5.8"/><text x="402" y="151">T081</text></g>
<g id="K067" class="n bl"><circle cx="263" cy="125" r="5.8"/><text x="263" y="125">K067</text></g>
<g id="K087" class="n bl"><circle cx="296" cy="121" r="5.8"/><text x="296" y="121">K087</text></g>
<g id="K030" class="n bl"><circle cx="270" cy="137" r="5.8"/><text x="270" y="137">K030</text></g>
<g id="K072b" class="n in"><circle cx="271" cy="147" r="5.8"/><text x="271" y="147">K072</text></g>
<g id="K115i" class="n in"><circle cx="238" cy="168" r="5.8"/><text x="238" y="168">K115</text></g>
<g id="K070" class="n hp"><circle cx="241" cy="143" r="5.8"/><text x="241" y="143">K070</text></g>
<g id="K062p" class="n hp"><circle cx="209" cy="168" r="5.8"/><text x="209" y="168">K062</text></g>
<g id="S011" class="n li"><circle cx="230" cy="155" r="5.8"/><text x="230" y="155">S011</text></g>
<g id="S001" class="n li"><circle cx="255" cy="150" r="5.8"/><text x="255" y="150">S001</text></g>
<g id="S007" class="n li"><circle cx="219" cy="170" r="5.8"/><text x="219" y="170">S007</text></g>
<g id="K080m" class="n mg"><circle cx="263" cy="164" r="5.8"/><text x="263" y="164">K080</text></g>
<g id="K062m" class="n mg"><circle cx="271" cy="180" r="5.8"/><text x="271" y="180">K062</text></g>
<g id="K099m" class="n mg"><circle cx="242" cy="196" r="5.8"/><text x="242" y="196">K099</text></g>
<g id="K105" class="n pu"><circle cx="215" cy="188" r="5.8"/><text x="215" y="188">K105</text></g>
<g id="K106" class="n pu"><circle cx="197" cy="212" r="5.8"/><text x="197" y="212">K106</text></g>
<g id="S041" class="n aq"><circle cx="228" cy="193" r="5.8"/><text x="228" y="193">S041</text></g>
<g id="S031" class="n aq"><circle cx="213" cy="203" r="5.8"/><text x="213" y="203">S031</text></g>
<g id="K028" class="n aq"><circle cx="194" cy="226" r="5.8"/><text x="194" y="226">K028</text></g>
<g id="K012" class="n aq"><circle cx="185" cy="252" r="5.8"/><text x="185" y="252">K012</text></g>
<g id="T023" class="n gn"><circle cx="449" cy="184" r="5.8"/><text x="449" y="184">T023</text></g>
<g id="T024" class="n gn"><circle cx="481" cy="169" r="5.8"/><text x="481" y="169">T024</text></g>
<g id="K107" class="n gn"><circle cx="233" cy="254" r="5.8"/><text x="233" y="254">K107</text></g>
<g id="K018" class="n gn"><circle cx="250" cy="279" r="5.8"/><text x="250" y="279">K018</text></g>
<g id="K010" class="n gn"><circle cx="313" cy="311" r="5.8"/><text x="313" y="311">K010</text></g>
<g id="K005g" class="n gn"><circle cx="346" cy="320" r="5.8"/><text x="346" y="320">K005</text></g>
<g id="T118" class="n rd"><circle cx="382" cy="176" r="5.8"/><text x="382" y="176">T118</text></g>
<g id="T050" class="n rd"><circle cx="403" cy="177" r="5.8"/><text x="403" y="177">T050</text></g>
<g id="T053r" class="n rd"><circle cx="376" cy="188" r="5.8"/><text x="376" y="188">T053</text></g>
<g id="T022" class="n rd"><circle cx="406" cy="188" r="5.8"/><text x="406" y="188">T022</text></g>
<g id="T034" class="n rd"><circle cx="377" cy="199" r="5.8"/><text x="377" y="199">T034</text></g>
<g id="T082r" class="n rd"><circle cx="395" cy="205" r="5.8"/><text x="395" y="205">T082</text></g>
<g id="T048r" class="n rd"><circle cx="413" cy="205" r="5.8"/><text x="413" y="205">T048</text></g>
<g id="T046" class="n rd"><circle cx="538" cy="185" r="5.8"/><text x="538" y="185">T046</text></g>
<g id="T005r" class="n rd"><circle cx="547" cy="194" r="5.8"/><text x="547" y="194">T005</text></g>
<g id="T019r" class="n rd"><circle cx="548" cy="205" r="5.8"/><text x="548" y="205">T019</text></g>
<g id="S148" class="n o2"><circle cx="486" cy="182" r="5.8"/><text x="486" y="182">S148</text></g>
<g id="T064o" class="n o2"><circle cx="500" cy="186" r="5.8"/><text x="500" y="186">T064</text></g>
<g id="K101" class="n o2"><circle cx="471" cy="189" r="5.8"/><text x="471" y="189">K101</text></g>
<g id="T085o" class="n o2"><circle cx="484" cy="196" r="5.8"/><text x="484" y="196">T085</text></g>
<g id="T062o2" class="n o2"><circle cx="510" cy="197" r="5.8"/><text x="510" y="197">T062</text></g>
<g id="K061o" class="n o2"><circle cx="466" cy="199" r="5.8"/><text x="466" y="199">K061</text></g>
<g id="T073" class="n o2"><circle cx="454" cy="209" r="5.8"/><text x="454" y="209">T073</text></g>
<g id="T063" class="n o2"><circle cx="474" cy="211" r="5.8"/><text x="474" y="211">T063</text></g>
<g id="T068" class="n o2"><circle cx="497" cy="207" r="5.8"/><text x="497" y="207">T068</text></g>
<g id="S190" class="n o2"><circle cx="509" cy="211" r="5.8"/><text x="509" y="211">S190</text></g>
<g id="T013" class="n o2"><circle cx="489" cy="217" r="5.8"/><text x="489" y="217">T013</text></g>
<g id="T047" class="n or"><circle cx="522" cy="164" r="5.8"/><text x="522" y="164">T047</text></g>
<g id="T033" class="n or"><circle cx="545" cy="173" r="5.8"/><text x="545" y="173">T033</text></g>
<g id="T059" class="n or"><circle cx="560" cy="193" r="5.8"/><text x="560" y="193">T059</text></g>
<g id="S021p" class="n pk"><circle cx="330" cy="244" r="5.8"/><text x="330" y="244">S021</text></g>
<g id="S210p" class="n pk"><circle cx="315" cy="259" r="5.8"/><text x="315" y="259">S210</text></g>
<g id="S220" class="n pk"><circle cx="342" cy="262" r="5.8"/><text x="342" y="262">S220</text></g>
<g id="K096" class="n b2"><circle cx="344" cy="283" r="5.8"/><text x="344" y="283">K096</text></g>
<g id="K058" class="n b2"><circle cx="360" cy="299" r="5.8"/><text x="360" y="299">K058</text></g>
<g id="K095" class="n b2"><circle cx="387" cy="297" r="5.8"/><text x="387" y="297">K095</text></g>
<g id="T012d" class="n dg"><circle cx="450" cy="234" r="5.8"/><text x="450" y="234">T012</text></g>
<g id="T014" class="n dg"><circle cx="498" cy="243" r="5.8"/><text x="498" y="243">T014</text></g>
<g id="T056" class="n dg"><circle cx="477" cy="262" r="5.8"/><text x="477" y="262">T056</text></g>
<g id="K167" class="n m2"><circle cx="463" cy="247" r="5.8"/><text x="463" y="247">K167</text></g>
<g id="S063" class="n m2"><circle cx="498" cy="254" r="5.8"/><text x="498" y="254">S063</text></g>
<g id="T029" class="n l2"><circle cx="588" cy="232" r="5.8"/><text x="588" y="232">T029</text></g>
<g id="T087" class="n l2"><circle cx="593" cy="245" r="5.8"/><text x="593" y="245">T087</text></g>
<g id="T064l" class="n l2"><circle cx="572" cy="254" r="5.8"/><text x="572" y="254">T064</text></g>
<g id="T098" class="n vi"><circle cx="587" cy="276" r="5.8"/><text x="587" y="276">T098</text></g>
<g id="T028" class="n vi"><circle cx="576" cy="296" r="5.8"/><text x="576" y="296">T028</text></g>
<g id="K044" class="n pu"><circle cx="282" cy="321" r="5.8"/><text x="282" y="321">K044</text></g>
<g id="K011p" class="n pu"><circle cx="309" cy="331" r="5.8"/><text x="309" y="331">K011</text></g>
<g id="K020" class="n ag"><circle cx="299" cy="350" r="5.8"/><text x="299" y="350">K020</text></g>
<g id="K016" class="n ag"><circle cx="339" cy="361" r="5.8"/><text x="339" y="361">K016</text></g>
<g id="K051" class="n lc"><circle cx="317" cy="360" r="5.8"/><text x="317" y="360">K051</text></g>
<g id="K057" class="n lc"><circle cx="354" cy="358" r="5.8"/><text x="354" y="358">K057</text></g>
<g id="K030b" class="n b3"><circle cx="390" cy="329" r="5.8"/><text x="390" y="329">K030</text></g>
<g id="K089" class="n b3"><circle cx="422" cy="313" r="5.8"/><text x="422" y="313">K089</text></g>
<g id="K059" class="n ol"><circle cx="409" cy="329" r="5.8"/><text x="409" y="329">K059</text></g>
<g id="K077o" class="n ol"><circle cx="449" cy="314" r="5.8"/><text x="449" y="314">K077</text></g>
<g id="S115" class="n d2"><circle cx="363" cy="389" r="5.8"/><text x="363" y="389">S115</text></g>
<g id="K061d" class="n d2"><circle cx="398" cy="389" r="5.8"/><text x="398" y="389">K061</text></g>
<g id="K103g" class="n go"><circle cx="519" cy="345" r="5.8"/><text x="519" y="345">K103</text></g>
<g id="K099g" class="n go"><circle cx="541" cy="344" r="5.8"/><text x="541" y="344">K099</text></g>
<g id="S005" class="n go"><circle cx="497" cy="354" r="5.8"/><text x="497" y="354">S005</text></g>
<g id="K059g" class="n go"><circle cx="534" cy="356" r="5.8"/><text x="534" y="356">K059</text></g>
<g id="S051" class="n go"><circle cx="518" cy="364" r="5.8"/><text x="518" y="364">S051</text></g>
<g id="K106g" class="n go"><circle cx="499" cy="367" r="5.8"/><text x="499" y="367">K106</text></g>
<g id="legend">
<rect x="64.5" y="439.5" width="577" height="28" fill="#fff" stroke="#2a2a2a" stroke-width="1.5"/>
<line x1="73" y1="453.5" x2="86" y2="453.5" stroke="#e8325f" stroke-width="1.3"/>
<text class="lg" x="90" y="457.5">Putative duplicates</text>
<line x1="197" y1="453.5" x2="209" y2="453.5" stroke="#cdcdcd" stroke-width="1"/>
<text class="lg" x="212" y="457.5">1st degree</text>
<text class="lg" x="277" y="457.5">K* - Turkish genotypes</text>
<text class="lg" x="398" y="457.5">S* - Spanish genotypes</text>
<text class="lg" x="521" y="457.5">T* - Tunisian genotypes</text>
</g>
</svg>
